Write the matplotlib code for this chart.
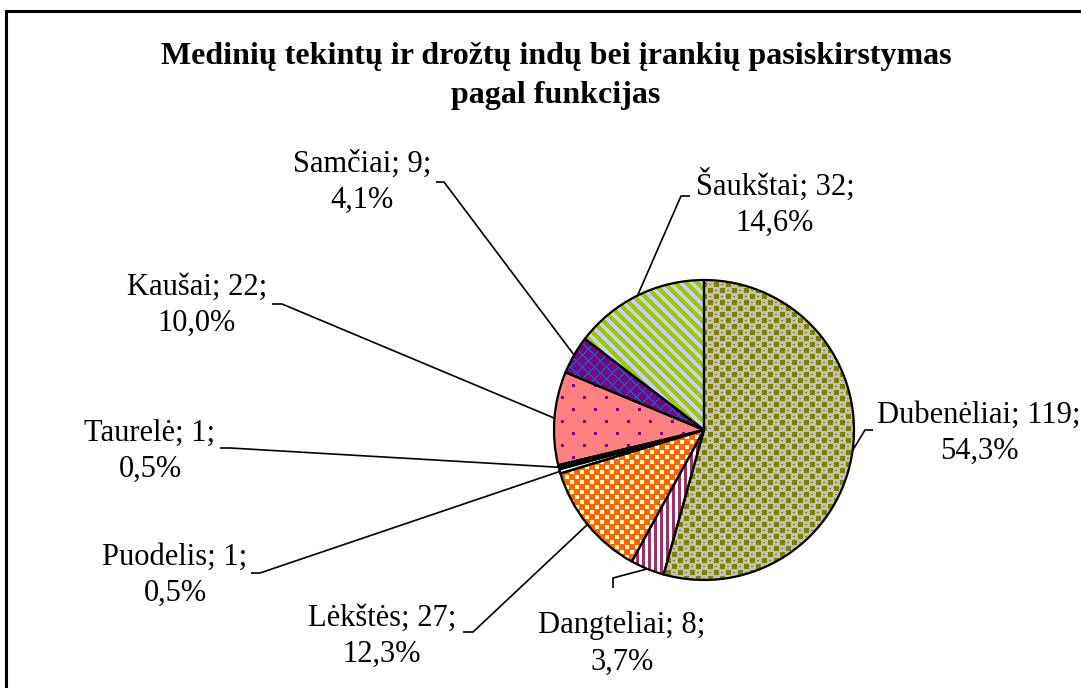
import numpy as np
import matplotlib
matplotlib.use("Agg")
import matplotlib.pyplot as plt
from matplotlib.colors import to_rgb
from matplotlib.patches import Rectangle

W, H = 1081, 688

# ---------------------- data ---------------------- #
names = ["Dubenėliai", "Dangteliai", "Lėkštės", "Puodelis", "Taurelė",
         "Kaušai", "Samčiai", "Šaukštai"]
counts = [119, 8, 27, 1, 1, 22, 9, 32]

title = "Medinių tekintų ir drožtų indų bei įrankių pasiskirstymas\npagal funkcijas"

# base colour / pattern colour for each slice
base_colors = ["#c0c0c0", "#ffffff", "#ff6600", "#ccffff", "#101010",
               "#ff8080", "#800080", "#99cc00"]
pattern_colors = ["#808000", "#993366", "#ffffcc", "#ccffff", "#101010",
                  "#800080", "#0066cc", "#ccccff"]
patterns = ["checker", "vstripe", "squares", "solid", "solid",
            "dots", "lattice", "dstripe"]

# label block centres and leader line anchors (pixel coords, y down)
label_xy = [(979, 433), (622, 644), (382, 636), (175, 575), (150, 451),
            (197, 305), (362, 182), (775, 203)]
leader_knee = [(865, 430), (613, 578), (473, 632), (260, 573), (230, 448),
               (282, 304), (444, 182), (681, 196)]
leader_end = [(873, 430), (613, 588), (463, 632), (251, 573), (220, 448),
              (272, 304), (436, 182), (690, 196)]

center_px = (704, 430)
radius_px = 150


def make_tile(kind, base, fg):
    """Small RGB tile (rows = image rows, top first) for a fill pattern."""
    b = np.array(to_rgb(base))
    f = np.array(to_rgb(fg))
    if kind == "checker":
        r, c = np.mgrid[0:12, 0:12]
        mask = ((r < 5) & (c < 5)) | ((r >= 6) & (r < 11) & (c >= 6) & (c < 11))
        mask |= (r == 8) & (c >= 1) & (c < 3)
        mask |= (r == 2) & (c >= 7) & (c < 9)
    elif kind == "vstripe":
        r, c = np.mgrid[0:6, 0:6]
        mask = c < 3
    elif kind == "squares":
        r, c = np.mgrid[0:10, 0:10]
        mask = ((r < 4) & (c < 4)) | ((r >= 5) & (r < 9) & (c >= 5) & (c < 9))
    elif kind == "dots":
        r, c = np.mgrid[0:24, 0:22]
        mask = ((r < 3) & (c < 3)) | ((r >= 12) & (r < 15) & (c >= 11) & (c < 14))
    elif kind == "lattice":
        r, c = np.mgrid[0:12, 0:12]
        mask = ((r + c) % 12 < 2) | ((r - c) % 12 < 2)
    elif kind == "dstripe":
        r, c = np.mgrid[0:11, 0:11]
        mask = (c - r) % 11 < 5
    else:
        mask = np.zeros((2, 2), dtype=bool)
    return np.where(mask[..., None], f, b)


def pix(xy):
    return xy[0], H - xy[1]


fig = plt.figure(figsize=(W / 100, H / 100), dpi=100)
ax = fig.add_axes([0, 0, 1, 1])

wedges, _ = ax.pie(counts, startangle=90, counterclock=False,
                   radius=radius_px, center=pix(center_px),
                   colors=base_colors,
                   wedgeprops=dict(edgecolor="black", linewidth=1.6))

for w, kind, bc, fc in zip(wedges, patterns, base_colors, pattern_colors):
    tile = make_tile(kind, bc, fc)
    th, tw = tile.shape[:2]
    img = np.tile(tile, (H // th + 1, W // tw + 1, 1))[:H, :W]
    im = ax.imshow(img, extent=(0, W, 0, H), origin="upper",
                   interpolation="nearest", zorder=1)
    im.set_clip_path(w)
    w.set_facecolor("none")
    w.set_zorder(2)

total = sum(counts)
for w, name, n, lxy, knee, end in zip(wedges, names, counts, label_xy,
                                      leader_knee, leader_end):
    mid = np.deg2rad((w.theta1 + w.theta2) / 2)
    cx, cy = pix(center_px)
    ex, ey = cx + radius_px * np.cos(mid), cy + radius_px * np.sin(mid)
    kx, ky = pix(knee)
    tx, ty = pix(end)
    ax.plot([ex, kx, tx], [ey, ky, ty], color="black", lw=1.2, zorder=3,
            solid_capstyle="butt")

    pct = f"{100 * n / total:.1f}".replace(".", ",")
    lx, ly = pix(lxy)
    ax.text(lx, ly, f"{name}; {n};\n{pct}%", ha="center", va="center",
            multialignment="center", linespacing=1.32,
            family="Liberation Serif", fontsize=22, zorder=4)

ax.text(556, H - 76, title, ha="center", va="center", linespacing=1.45,
        family="Liberation Serif", fontweight="bold", fontsize=23)

# chart area border (runs off the right and bottom edges)
ax.add_patch(Rectangle((6, -20), W + 40, H - 11 + 20, fill=False,
                       edgecolor="black", linewidth=2.2, zorder=5,
                       clip_on=False))

ax.set_xlim(0, W)
ax.set_ylim(0, H)
ax.set_aspect("auto")
ax.axis("off")

fig.savefig("out.png", dpi=100)
